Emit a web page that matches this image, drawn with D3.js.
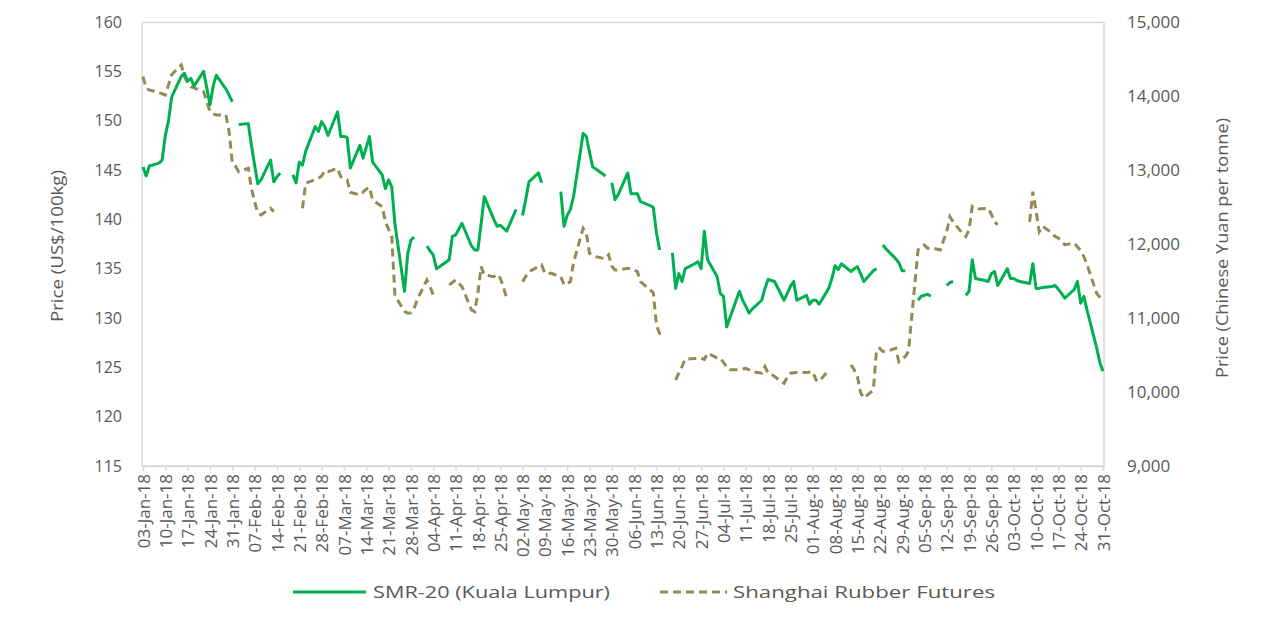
<!DOCTYPE html>
<html>
<head>
<meta charset="utf-8">
<script src="https://cdn.jsdelivr.net/npm/d3@7"></script>
<style>
  body { margin: 0; background: #fff; }
  svg { display: block; }
  text { font-family: "Open Sans", sans-serif; fill: #595959; }
</style>
</head>
<body>
<div id="chart"></div>
<script>
// SMR-20 (Kuala Lumpur), US$/100kg - null = no trading
const smrDates = ["01-03","01-04","01-05","01-08","01-09","01-10","01-11","01-12","01-15","01-16","01-17","01-18","01-19","01-22","01-23","01-24","01-25","01-26","01-29","01-30","01-31","02-01",
  "02-02","02-05","02-06","02-07","02-08","02-09","02-12","02-13","02-14","02-15","02-16",
  "02-19","02-20","02-21","02-22","02-23","02-26","02-27","02-28","03-01","03-02","03-05","03-06","03-07","03-08","03-09","03-12","03-13","03-14","03-15","03-16","03-19","03-20","03-21","03-22","03-23","03-26","03-27","03-28","03-29","03-30",
  "04-02","04-03","04-04","04-05","04-06","04-09","04-10","04-11","04-12","04-13","04-16","04-17","04-18","04-19","04-20","04-23","04-24","04-25","04-26","04-27","04-30","05-01",
  "05-02","05-03","05-04","05-07","05-08","05-09",
  "05-14","05-15","05-16","05-17","05-18","05-21","05-22","05-23","05-24","05-25","05-28","05-29",
  "05-30","05-31","06-01","06-04","06-05","06-06","06-07","06-08","06-11","06-12","06-13","06-14","06-15",
  "06-18","06-19","06-20","06-21","06-22","06-25","06-26","06-27","06-28","06-29","07-02","07-03","07-04","07-05","07-06","07-09","07-10","07-11","07-12","07-13","07-16","07-17","07-18","07-19","07-20","07-23","07-24","07-25","07-26","07-27","07-30","07-31","08-01","08-02","08-03","08-06","08-07","08-08","08-09","08-10","08-13","08-14","08-15","08-16","08-17","08-20","08-21","08-22",
  "08-23","08-24","08-27","08-28","08-29","08-30","08-31",
  "09-03","09-04","09-05","09-06","09-07","09-10",
  "09-12","09-13","09-14","09-17",
  "09-18","09-19","09-20","09-21","09-24","09-25","09-26","09-27","09-28","10-01","10-02","10-03","10-04","10-05","10-08","10-09","10-10","10-11","10-12","10-15","10-16","10-17","10-18","10-19","10-22","10-23","10-24","10-25","10-26","10-29","10-30","10-31"];
const smrValues = [145.3,144.4,145.4,145.7,146.0,148.5,150.0,152.4,154.5,154.8,154.0,154.3,153.5,155.0,153.3,151.6,153.5,154.6,153.2,152.6,151.9,null,
  149.6,149.7,147.5,145.5,143.6,144.0,146.0,143.8,144.3,144.7,null,
  144.5,143.7,145.8,145.5,146.9,149.4,148.9,149.9,149.4,148.5,150.9,148.4,148.4,148.3,145.2,147.5,146.2,147.3,148.4,145.8,144.5,143.1,144.0,143.3,139.5,132.7,136.5,137.9,138.2,null,
  137.3,136.8,136.4,135.0,135.2,135.9,138.3,138.4,139.0,139.6,137.3,136.9,136.9,139.5,142.3,140.0,139.3,139.4,139.1,138.8,141.0,null,
  140.4,142.0,143.8,144.7,143.7,null,
  142.8,139.3,140.4,141.0,142.3,148.7,148.4,146.8,145.3,145.1,144.4,null,
  143.7,142.0,142.5,144.7,142.6,142.6,142.6,141.8,141.4,141.2,138.6,136.9,null,
  136.6,133.0,134.5,133.7,135.0,135.5,135.7,135.0,138.8,135.9,134.2,132.5,132.2,129.1,130.0,132.7,131.8,131.2,130.5,130.9,131.8,133.0,133.9,133.8,133.7,131.8,132.5,133.2,133.7,131.8,132.3,131.4,131.8,131.8,131.4,133.0,134.0,135.3,134.9,135.5,134.7,135.0,135.2,134.5,133.7,134.8,135.0,null,
  137.4,137.0,136.0,135.6,134.8,134.8,null,
  131.8,132.2,132.3,132.4,132.2,null,
  133.3,133.6,133.7,null,
  132.3,132.7,135.9,134.0,133.8,133.7,134.5,134.7,133.3,135.0,134.0,134.0,133.8,133.7,133.5,135.5,133.0,133.0,133.1,133.2,133.3,132.9,132.5,132.0,132.9,133.7,131.5,132.2,130.8,127.0,125.5,124.6];

// Shanghai Rubber Futures, Yuan/tonne
const shDates = ["01-03","01-04","01-05","01-08","01-09","01-10","01-11","01-12","01-15","01-16","01-17","01-18","01-19","01-22","01-23","01-24","01-25","01-26","01-29","01-30","01-31","02-01","02-02","02-05","02-06","02-07","02-08","02-09","02-12","02-13","02-14",
  "02-22","02-23","02-26","02-27","02-28","03-01","03-02","03-05","03-06","03-07","03-08","03-09","03-12","03-13","03-14","03-15","03-16","03-19","03-20","03-21","03-22","03-23","03-26","03-27","03-28","03-29","03-30","04-02","04-03","04-04","04-05",
  "04-09","04-10","04-11","04-12","04-13","04-16","04-17","04-18","04-19","04-20","04-23","04-24","04-25","04-26","04-27","04-30",
  "05-02","05-03","05-04","05-07","05-08","05-09","05-10","05-11","05-14","05-15","05-16","05-17","05-18","05-21","05-22","05-23","05-24","05-25","05-28","05-29","05-30","05-31","06-01","06-04","06-05","06-06","06-07","06-08","06-11","06-12","06-13","06-14","06-15","06-18",
  "06-19","06-20","06-21","06-22","06-25","06-26","06-27","06-28","06-29","07-02","07-03","07-04","07-05","07-06","07-09","07-10","07-11","07-12","07-13","07-16","07-17","07-18","07-19","07-20","07-23","07-24","07-25","07-26","07-27","07-30","07-31","08-01","08-02","08-03","08-06","08-07",
  "08-13","08-14","08-15","08-16","08-17","08-20","08-21","08-22","08-23","08-24","08-27","08-28","08-29","08-30","08-31","09-03","09-04","09-05","09-06","09-07","09-10","09-11","09-12","09-13","09-14","09-17","09-18","09-19","09-20","09-21","09-25","09-26","09-27","09-28","10-01",
  "10-08","10-09","10-10","10-11","10-12","10-15","10-16","10-17","10-18","10-19","10-22","10-23","10-24","10-25","10-26","10-29","10-30","10-31"];
const shValues = [14261,14104,14081,14050,14030,14014,14150,14290,14419,14260,14180,14126,14110,14059,13923,13788,13760,13744,13744,13518,13091,13050,12978,13023,12753,12572,12416,12393,12483,12437,null,
  12483,12821,12870,12888,12920,12990,12978,13023,12910,12880,12865,12700,12663,12700,12740,12767,12595,12505,12300,12200,12100,11300,11090,11064,11070,11130,11250,11514,11424,11312,null,
  11447,11480,11514,11470,11424,11109,11086,11335,11694,11582,11559,11590,11540,11420,11267,null,
  11491,11560,11627,11694,11717,11604,11604,11604,11559,11447,11470,11491,11750,12213,12150,11875,11850,11829,11800,11852,11700,11649,11649,11672,11660,11649,11627,11491,11379,11340,10900,10790,10771,null,
  10163,10254,10344,10443,10452,10455,10457,10440,10524,10460,10457,10400,10340,10299,10299,10310,10321,10300,10276,10254,10344,10254,10240,10210,10119,10200,10254,10260,10262,10262,10270,10276,10163,10141,10299,null,
  10366,10300,10208,9990,9917,10028,10569,10591,10546,10546,10591,10411,10450,10479,10546,11919,11970,11987,11942,11950,11919,12050,12167,12370,12300,12140,12100,12190,12505,12470,12483,12400,12300,12260,null,
  12300,12707,12450,12167,12240,12150,12100,12080,12040,11990,12010,11960,11910,11830,11720,11334,11280,11222];

const leftTicks = [115,120,125,130,135,140,145,150,155,160];
const rightTicks = [9000,10000,11000,12000,13000,14000,15000];
const seriesNames = ["SMR-20 (Kuala Lumpur)", "Shanghai Rubber Futures"];

const width = 1271, height = 629;
const parse = d3.utcParse("%Y-%m-%d");
const fmtTick = d3.utcFormat("%d-%b-%y");

const svg = d3.select("#chart").append("svg")
  .attr("width", width)
  .attr("height", height);

// scales
const x = d3.scaleUtc()
  .domain([parse("2018-01-03"), parse("2018-10-31")])
  .range([143, 1103]);
const yL = d3.scaleLinear().domain([115, 160]).range([466, 22]);
const yR = d3.scaleLinear().domain([9000, 15000]).range([466, 22]);

// plot area border
svg.append("rect")
  .attr("x", 142).attr("y", 22.5)
  .attr("width", 1104 - 142).attr("height", 466 - 22.5)
  .attr("fill", "none").attr("stroke", "#d9d9d9").attr("stroke-width", 1.5);

// x axis, one tick a week
const xTicks = d3.range(0, 44).map(i => d3.utcDay.offset(parse("2018-01-03"), i * 7));
const xAxis = svg.append("g")
  .attr("transform", "translate(0,466)")
  .call(d3.axisBottom(x).tickValues(xTicks).tickSize(5).tickFormat(fmtTick));
xAxis.select(".domain").attr("stroke", "#d9d9d9").attr("stroke-width", 1.5);
xAxis.selectAll(".tick line").attr("stroke", "#d9d9d9").attr("stroke-width", 1.5);
xAxis.selectAll(".tick text")
  .attr("transform", "rotate(-90)")
  .attr("text-anchor", "end")
  .attr("x", -8).attr("y", 0).attr("dy", "0.36em")
  .style("font-size", "17px")
  .style("fill", "#595959");

// left axis
const yLAxis = svg.append("g")
  .attr("transform", "translate(142,0)")
  .call(d3.axisLeft(yL).tickValues(leftTicks).tickSize(0).tickPadding(20));
yLAxis.select(".domain").remove();
yLAxis.selectAll("text").style("font-size", "16px").style("fill", "#595959");

// right axis
const yRAxis = svg.append("g")
  .attr("transform", "translate(1104,0)")
  .call(d3.axisRight(yR).tickValues(rightTicks).tickSize(0).tickPadding(23).tickFormat(d3.format(",")));
yRAxis.select(".domain").remove();
yRAxis.selectAll("text").style("font-size", "17px").style("fill", "#595959");

// axis titles
svg.append("text")
  .attr("transform", "translate(63,246) rotate(-90)")
  .attr("text-anchor", "middle")
  .attr("textLength", 152).attr("lengthAdjust", "spacingAndGlyphs")
  .style("font-size", "17px")
  .text("Price (US$/100kg)");
svg.append("text")
  .attr("transform", "translate(1228,248) rotate(-90)")
  .attr("text-anchor", "middle")
  .attr("textLength", 260).attr("lengthAdjust", "spacingAndGlyphs")
  .style("font-size", "17px")
  .text("Price (Chinese Yuan per tonne)");

// lines
const smr = smrDates.map((d, i) => ({ date: parse("2018-" + d), value: smrValues[i] }));
const sh = shDates.map((d, i) => ({ date: parse("2018-" + d), value: shValues[i] }));

const lineL = d3.line()
  .defined(d => d.value !== null)
  .x(d => x(d.date))
  .y(d => yL(d.value));
const lineR = d3.line()
  .defined(d => d.value !== null)
  .x(d => x(d.date))
  .y(d => yR(d.value));

svg.append("path")
  .datum(sh)
  .attr("d", lineR)
  .attr("fill", "none")
  .attr("stroke", "#948a54")
  .attr("stroke-width", 3)
  .attr("stroke-dasharray", "8,5");

svg.append("path")
  .datum(smr)
  .attr("d", lineL)
  .attr("fill", "none")
  .attr("stroke", "#00b050")
  .attr("stroke-width", 3)
  .attr("stroke-linejoin", "round");

// legend
const legend = svg.append("g").attr("transform", "translate(0,592)");
legend.append("line")
  .attr("x1", 293).attr("x2", 366)
  .attr("stroke", "#00b050").attr("stroke-width", 3);
legend.append("text")
  .attr("x", 373).attr("dy", "0.35em")
  .attr("textLength", 237).attr("lengthAdjust", "spacingAndGlyphs")
  .style("font-size", "17px")
  .text(seriesNames[0]);
legend.append("line")
  .attr("x1", 660).attr("x2", 727)
  .attr("stroke", "#948a54").attr("stroke-width", 3)
  .attr("stroke-dasharray", "8,5");
legend.append("text")
  .attr("x", 733).attr("dy", "0.35em")
  .attr("textLength", 262).attr("lengthAdjust", "spacingAndGlyphs")
  .style("font-size", "17px")
  .text(seriesNames[1]);
</script>
</body>
</html>
